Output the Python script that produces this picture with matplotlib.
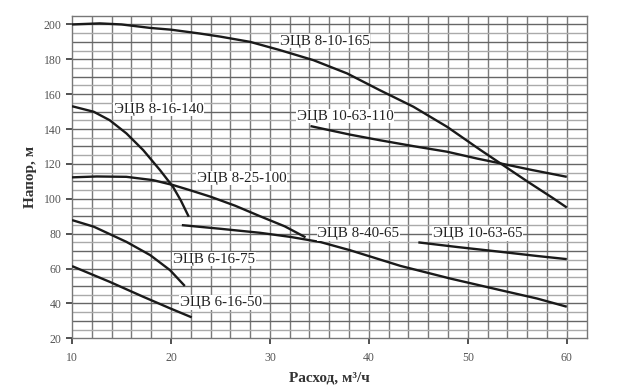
import numpy as np
import matplotlib
matplotlib.use("Agg")
import matplotlib.pyplot as plt

plt.rcParams['font.family'] = ['Liberation Serif', 'DejaVu Serif']

# pump curves: flow (m3/h) -> head (m)
q_8_10_165 = [10, 12.8, 15, 17.9, 20, 22.9, 25, 28, 31.0, 34.4, 37.8, 41.1, 44.5, 47.9, 51.3, 53.3, 56, 58.6, 60]
h_8_10_165 = [200, 200.6, 200, 198, 197, 194.8, 193, 190, 185.3, 179.5, 171.9, 162.3, 152.8, 141.3, 127.9, 120.3, 110, 100.4, 95]

q_10_63_110 = [34.1, 38.1, 41.1, 44.5, 47.9, 51.0, 53.3, 56.5, 60]
h_10_63_110 = [141.7, 136.8, 133.6, 130.2, 127.0, 123.0, 120.3, 116.5, 112.6]

q_8_16_140 = [10, 12.2, 13.8, 15.5, 17.2, 18.9, 20.2, 21.0, 21.8]
h_8_16_140 = [153.1, 149.9, 145.1, 137.5, 127.9, 116.4, 106.9, 99.0, 89.7]

q_8_25_100 = [10, 12.5, 15.5, 18.2, 20.2, 22, 24, 26.5, 29, 31.5, 33.6]
h_8_25_100 = [112.3, 112.8, 112.6, 110.7, 107.9, 104.8, 101.2, 96, 90, 84.2, 77.9]

q_8_40_65 = [21.1, 25, 29, 32, 35.1, 38.1, 43.2, 48.2, 53.3, 57, 60]
h_8_40_65 = [84.9, 82.8, 80.5, 78.2, 75.2, 70.5, 61.5, 54.3, 47.6, 42.8, 38.1]

q_10_63_65 = [45.0, 49, 53.3, 57, 60]
h_10_63_65 = [75, 72.3, 69.6, 67.2, 65.4]

q_6_16_75 = [10, 12.2, 15.5, 17.9, 19.9, 21.4]
h_6_16_75 = [87.8, 84, 75.3, 67.7, 59.1, 50]

q_6_16_50 = [10, 13.8, 17.2, 19.9, 22.1]
h_6_16_50 = [61.4, 52.4, 43.8, 37.2, 32]

curves = [
    (q_8_10_165, h_8_10_165),
    (q_10_63_110, h_10_63_110),
    (q_8_16_140, h_8_16_140),
    (q_8_25_100, h_8_25_100),
    (q_8_40_65, h_8_40_65),
    (q_10_63_65, h_10_63_65),
    (q_6_16_75, h_6_16_75),
    (q_6_16_50, h_6_16_50),
]

# curve labels and their anchor (left edge, middle)
label_text = ['ЭЦВ 8-10-165', 'ЭЦВ 10-63-110', 'ЭЦВ 8-16-140', 'ЭЦВ 8-25-100',
              'ЭЦВ 8-40-65', 'ЭЦВ 10-63-65', 'ЭЦВ 6-16-75', 'ЭЦВ 6-16-50']
label_q = [31.0, 32.7, 14.2, 22.6, 34.8, 46.5, 20.2, 20.9]
label_h = [190.4, 147.4, 151.4, 111.9, 80.0, 80.0, 65.4, 40.4]

x_ticks = [10, 20, 30, 40, 50, 60]
y_ticks = [20, 40, 60, 80, 100, 120, 140, 160, 180, 200]

fig = plt.figure(figsize=(6.24, 3.9), dpi=100)
ax = fig.add_axes([0.1154, 0.1326, 0.8246, 0.8271])
ax.set_xlim(10, 62)
ax.set_ylim(20, 205)

## grid
for gx in np.arange(12, 62, 2):
    ax.axvline(gx, color='#7a7a7a', lw=1.0, zorder=1)
for gy in np.arange(25, 205, 5):
    c = '#666666' if gy % 10 == 0 else '#aaaaaa'
    ax.axhline(gy, color=c, lw=1.0, zorder=1)

for s in ax.spines.values():
    s.set_color('#777777')
    s.set_linewidth(1.0)

## curves
for q, h in curves:
    ax.plot(q, h, color='#1a1a1a', lw=1.7, zorder=3, solid_capstyle='butt',
            solid_joinstyle='round')

for t, lq, lh in zip(label_text, label_q, label_h):
    ax.text(lq, lh, t, fontsize=10.8, ha='left', va='center', color='#222222',
            zorder=4, bbox={'fc': 'white', 'ec': 'none', 'pad': 0.5})

## ticks
ax.set_xticks(x_ticks)
ax.set_yticks(y_ticks)
ax.tick_params(axis='both', colors='#333333', labelcolor='#555555',
               labelsize=8.5, length=4, width=1.2, direction='out')
ax.tick_params(axis='x', pad=6)

ax.set_xlabel('Расход, м³/ч', fontsize=11, fontweight='bold',
              color='#333333', labelpad=5)
ax.set_ylabel('Напор, м', fontsize=11, fontweight='bold',
              color='#333333', labelpad=5)

fig.savefig('out.png', dpi=100)
